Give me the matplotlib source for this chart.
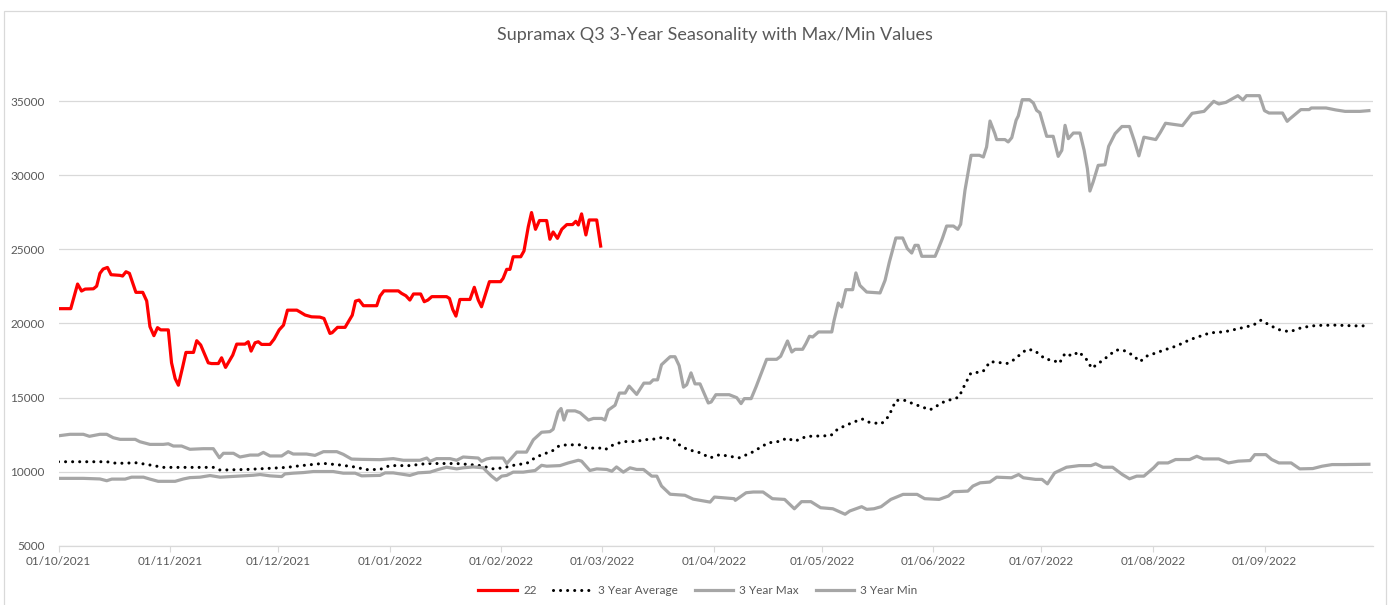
import matplotlib.pyplot as plt
import matplotlib.dates as mdates
import pandas as pd
from matplotlib.patches import Rectangle

plt.rcParams['font.family'] = ['Lato', 'DejaVu Sans']

# --- Data ---
# x positions are days since 01/10/2021
start = pd.Timestamp('2021-10-01')

red_days = [0, 3.4, 5.3, 6.4, 7.4, 9.7, 10.6, 11.5, 12.4, 13.6, 14.6, 17.1, 17.8, 18.75, 19.7,
            21.5, 23.4, 24.5, 25.4, 26.5, 27.5, 28.4, 30.5, 31.4, 32.4, 33.3, 34.5, 35.4, 37.5,
            38.4, 39.5, 41.6, 42.5, 44.4, 45.3, 46.4, 48.4, 49.5, 51.8, 52.7, 53.5, 54.6, 55.5,
            56.4, 58.75, 59.9, 61.3, 62.5, 63.6, 66.2, 67, 68.5, 70.3, 72.6, 73.75, 75.4, 76,
            77.5, 79.6, 80.5, 81.6, 82.5, 83.5, 84.7, 88.4, 89.3, 90.4, 94.4, 95.3, 96.5, 97.6,
            98.6, 100.6, 101.6, 102.6, 103.7, 107.8, 108.6, 109.5, 110.4, 111.5, 114.3, 115.5,
            116.6, 117.5, 119.7, 122.8, 123.5, 124.5, 125.4, 126.3, 128.4, 129.3, 130.5, 131.4,
            132.5, 133.6, 135.6, 136.5, 137.4, 138.6, 139.8, 141.2, 142.8, 143.7, 144.4, 145.3,
            146.5, 147.4, 149.5, 150.6]
red_vals = [21000, 21000, 22660, 22190, 22320, 22340, 22520, 23380, 23670, 23780, 23290, 23245,
            23200, 23490, 23380, 22100, 22100, 21520, 19790, 19180, 19720, 19570, 19570, 17350,
            16290, 15840, 17080, 18050, 18050, 18840, 18550, 17350, 17300, 17300, 17690, 17040,
            17870, 18610, 18610, 18770, 18140, 18700, 18770, 18590, 18590, 18950, 19570, 19890,
            20900, 20900, 20790, 20570, 20450, 20430, 20340, 19330, 19380, 19740, 19740, 20110,
            20560, 21510, 21580, 21200, 21200, 21850, 22200, 22200, 22030, 21870, 21580, 21990,
            21990, 21470, 21580, 21810, 21810, 21690, 20950, 20500, 21620, 21620, 22440, 21580,
            21130, 22820, 22820, 23040, 23650, 23650, 24500, 24500, 24890, 26530, 27480, 26350,
            26940, 26940, 25680, 26170, 25740, 26350, 26670, 26670, 26890, 26640, 27390, 25970,
            26980, 26980, 25220]

avg_days = [0, 13.4, 16.2, 21.7, 25.4, 29.1, 43, 44.9, 52.3, 59.7, 63.4, 67.1, 73.6, 78.2, 81.9,
            85.6, 89.3, 92, 97.6, 102.3, 110.6, 114.3, 117.1, 120.8, 123.5, 127.3, 130, 131.9,
            134.2, 137, 139.1, 141.2, 144.9, 146.7, 150.4, 151.8, 154.1, 156.9, 160.6, 162.4,
            165.2, 167.5, 170.8, 172.9, 174.9, 178.3, 181, 183.7, 189, 192.4, 197.1, 200.4,
            202.4, 204.5, 207.8, 214.5, 216.5, 220.6, 223.25, 225.3, 228.6, 230.6, 232.6, 234.7,
            237.4, 242.1, 246.1, 250.1, 251.4, 253.4, 256.8, 258.8, 263.5, 264.9, 268.9, 271,
            274.25, 276.25, 278, 279.6, 281.6, 283.4, 285.7, 287, 290.4, 293.7, 295.7, 298.4,
            300.4, 302.4, 307.1, 310.5, 314.5, 319.9, 323.9, 327.9, 331.9, 334, 336, 338.7, 342,
            345.4, 349.4, 354.75, 360.1, 363.5]
avg_vals = [10680, 10680, 10570, 10610, 10460, 10300, 10300, 10120, 10160, 10250, 10300, 10410,
            10570, 10460, 10340, 10150, 10160, 10420, 10420, 10560, 10560, 10490, 10420, 10200,
            10270, 10490, 10560, 10870, 11160, 11380, 11760, 11820, 11820, 11600, 11600, 11490,
            11820, 12040, 12040, 12160, 12200, 12310, 12210, 11720, 11500, 11280, 10940, 11160,
            10940, 11280, 11950, 12060, 12280, 12060, 12390, 12440, 12890, 13330, 13560, 13330,
            13240, 13740, 14810, 14850, 14590, 14180, 14740, 15030, 15700, 16640, 16760, 17430,
            17310, 17470, 18250, 18200, 17580, 17540, 17310, 17990, 17810, 18100, 17540, 16980,
            17580, 18210, 18210, 17870, 17430, 17810, 18210, 18480, 18930, 19370, 19440, 19660,
            19890, 20220, 19950, 19600, 19440, 19730, 19870, 19890, 19840, 19840]

max_days = [0, 3.2, 6.9, 8.6, 11.5, 13.4, 15.2, 17.1, 21.3, 22.6, 25.4, 29.1, 30.5, 31.9, 34.2,
            36.5, 40.2, 43, 44.7, 45.8, 48.6, 50.4, 53.2, 55.5, 56.9, 58.75, 62, 63.8, 65.2,
            68.9, 71.25, 73.6, 77.3, 79.1, 81.4, 84.2, 89.3, 93, 95.8, 100.4, 102.3, 103.2, 105,
            108.75, 110.6, 112.4, 116.6, 117.5, 118.9, 120.3, 123.5, 124.5, 127.3, 130, 131.9,
            134.2, 136.5, 137.4, 138.8, 139.6, 140.4, 141.3, 143.5, 144.9, 147.2, 148.6, 150.9,
            151.8, 152.7, 154.6, 155.8, 157.4, 158.5, 160.6, 162.6, 164.3, 165.2, 166.4, 167.5,
            169.9, 171.25, 172.4, 173.6, 174.5, 175.7, 176.8, 178.2, 180.5, 181.3, 182.6, 186.3,
            188.4, 189.6, 190.5, 192.4, 193.75, 196.7, 199.5, 200.6, 202.5, 203.7, 204.6, 206.7,
            207.6, 208.6, 209.5, 211.1, 214.8, 215.4, 216.6, 217.55, 218.7, 220.6, 221.5, 222.6,
            224.5, 228.2, 229.6, 230.8, 232.6, 234.5, 235.8, 237, 237.9, 238.8, 239.8, 243.5,
            244.4, 245.5, 246.7, 248.6, 249.8, 250.6, 251.8, 253.5, 255.8, 256.9, 257.8, 258.75,
            260.1, 260.6, 262.9, 263.8, 264.8, 266, 266.6, 267.7, 269.7, 270.8, 271.7, 272.6,
            274.5, 276.3, 277.7, 278.7, 279.6, 280.5, 281.9, 283.75, 284.9, 285.8, 286.5, 287.4,
            288.8, 290.7, 291.7, 293.5, 295.4, 297.5, 298.8, 300.1, 301.5, 304.8, 306.1, 307.5,
            312.2, 314.9, 318.2, 320.9, 322.3, 324.3, 327.6, 329, 330, 333.6, 335, 336.25, 340,
            341.3, 342, 345.1, 347.4, 348, 352.1, 354.75, 357.4, 361.5, 364]
max_vals = [12430, 12530, 12530, 12395, 12530, 12530, 12300, 12190, 12190, 12030, 11850, 11850,
            11890, 11740, 11740, 11520, 11560, 11560, 10950, 11250, 11250, 11000, 11130, 11130,
            11310, 11070, 11070, 11360, 11200, 11200, 11110, 11360, 11360, 11180, 10860, 10840,
            10820, 10890, 10780, 10780, 10930, 10710, 10890, 10890, 10780, 11000, 10930, 10710,
            10870, 10930, 10930, 10560, 11330, 11330, 12160, 12670, 12710, 12870, 14040, 14270,
            13490, 14110, 14110, 13980, 13490, 13600, 13600, 13490, 14160, 14490, 15310, 15310,
            15780, 15220, 15980, 15980, 16200, 16200, 17220, 17760, 17760, 17160, 15710, 15870,
            16670, 15930, 15930, 14640, 14710, 15200, 15200, 15000, 14600, 14935, 14935, 15720,
            17585, 17585, 17790, 18820, 18080, 18260, 18260, 18640, 19140, 19090, 19430, 19430,
            20170, 21380, 21110, 22280, 22280, 23410, 22570, 22120, 22060, 22910, 24150, 25765,
            25765, 25045, 24750, 25270, 25270, 24530, 24530, 25045, 25720, 26570, 26570, 26350,
            26690, 28980, 31340, 31340, 31225, 31900, 33650, 32800, 32400, 32400, 32240, 32530,
            33700, 33990, 35090, 35090, 34865, 34370, 34210, 32620, 32620, 31270, 31675, 33360,
            32460, 32840, 32840, 31675, 30440, 28930, 29540, 30660, 30700, 31940, 32800, 33280,
            33280, 32340, 31300, 32560, 32400, 32900, 33500, 33340, 34170, 34300, 34980, 34800,
            34910, 35360, 35070, 35360, 35360, 34350, 34190, 34190, 33630, 33790, 34420, 34420,
            34530, 34530, 34400, 34300, 34300, 34350]

min_days = [0, 6.9, 11.5, 13.4, 14.8, 18.5, 20.3, 23.6, 25.4, 27.7, 32.4, 34.7, 36.5, 39.3, 42.1,
            44.9, 47.6, 51.3, 54.1, 56, 58.75, 62, 62.9, 65.2, 68, 70.8, 76.3, 79.1, 82.4, 84.2,
            89.3, 90.7, 93, 97.6, 99.9, 103.2, 105.5, 107.8, 110.6, 112.4, 115.2, 118, 118.9,
            120.3, 121.7, 123.1, 124.5, 126.3, 129.1, 131, 132.4, 134.2, 135.6, 139.3, 141.6,
            144.4, 145.3, 147.6, 149.5, 152.3, 153.7, 155, 156.9, 158.75, 160.6, 162.5, 164.8,
            166.2, 167.5, 169.9, 174, 176.3, 181, 182.2, 187.7, 188, 191, 193, 195.7, 198.3,
            201.7, 204.4, 206.4, 209, 211.7, 215.1, 218.5, 219.8, 223.1, 224.5, 226.5, 228.5,
            231.2, 234.6, 238.5, 240.6, 244.6, 247.2, 248.6, 252.6, 254, 256, 258.7, 260.6,
            264.7, 266.7, 268, 271.4, 273.2, 274.7, 276.7, 280, 283.5, 286.8, 288.1, 290.1,
            292.8, 295.5, 297.5, 299.5, 301.5, 302.8, 304.2, 305.5, 308.2, 310.3, 314.2, 316.2,
            318, 322.3, 325, 327.7, 331, 332.3, 335.4, 337, 339, 342.4, 344.8, 348.4, 351, 353.8,
            357.1, 364]
min_vals = [9560, 9560, 9520, 9400, 9510, 9510, 9640, 9640, 9510, 9360, 9360, 9520, 9610, 9640,
            9750, 9640, 9680, 9730, 9770, 9820, 9730, 9680, 9860, 9910, 9950, 10020, 10020, 9910,
            9910, 9730, 9760, 9930, 9930, 9760, 9930, 9980, 10160, 10310, 10200, 10270, 10330,
            10270, 10040, 9710, 9440, 9710, 9760, 9980, 9980, 10040, 10090, 10440, 10380, 10420,
            10600, 10780, 10720, 10090, 10200, 10160, 10040, 10330, 9980, 10270, 10160, 10160,
            9710, 9710, 9045, 8490, 8420, 8160, 7960, 8300, 8190, 8080, 8590, 8640, 8640, 8190,
            8140, 7510, 7990, 7990, 7580, 7510, 7140, 7360, 7650, 7470, 7510, 7650, 8140, 8480,
            8480, 8190, 8140, 8370, 8660, 8700, 9040, 9260, 9310, 9640, 9600, 9820, 9600, 9490,
            9490, 9190, 9930, 10310, 10420, 10420, 10540, 10310, 10310, 9820, 9530, 9710, 9710,
            9980, 10270, 10600, 10600, 10830, 10830, 11050, 10870, 10870, 10600, 10720, 10760,
            11160, 11160, 10830, 10600, 10600, 10200, 10220, 10380, 10490, 10490, 10510]

series_labels = ['22', '3 Year Average', '3 Year Max', '3 Year Min']
month_ticks = pd.date_range('2021-10-01', '2022-09-01', freq='MS')


def to_dates(days):
    return start + pd.to_timedelta(days, unit='D')


text_grey = '#595959'
line_grey = '#a6a6a6'
grid_grey = '#d9d9d9'

# --- Figure ---
W, H = 1396, 605
fig = plt.figure(figsize=(W / 100, H / 100), dpi=100)
ax = fig.add_axes([58.5 / W, 1 - 546 / H, 1314 / W, (546 - 56.5) / H])

ax.plot(to_dates(red_days), red_vals, color='#ff0000', lw=2.3, label=series_labels[0],
        solid_joinstyle='round')
ax.plot(to_dates(avg_days), avg_vals, color='black', lw=2.2, linestyle=(0, (0.01, 2.3)),
        dash_capstyle='round', label=series_labels[1])
ax.plot(to_dates(max_days), max_vals, color=line_grey, lw=2.3, label=series_labels[2],
        solid_joinstyle='round')
ax.plot(to_dates(min_days), min_vals, color=line_grey, lw=2.3, label=series_labels[3],
        solid_joinstyle='round')

ax.set_xlim(start, start + pd.Timedelta(days=365))
ax.set_ylim(5000, 38000)
ax.set_yticks(range(5000, 35001, 5000))
ax.set_xticks(month_ticks)
ax.xaxis.set_major_formatter(mdates.DateFormatter('%d/%m/%Y'))

ax.yaxis.grid(True, color=grid_grey, lw=0.9)
ax.set_axisbelow(True)
for side in ['top', 'right', 'left']:
    ax.spines[side].set_visible(False)
ax.spines['bottom'].set_color(grid_grey)
ax.spines['bottom'].set_linewidth(0.9)

ax.tick_params(axis='x', length=4, color=grid_grey, labelcolor=text_grey, labelsize=8.5, pad=3)
ax.tick_params(axis='y', length=0, labelcolor=text_grey, labelsize=8.5, pad=10)

fig.text(715 / W, 1 - 35 / H, 'Supramax Q3 3-Year Seasonality with Max/Min Values',
         ha='center', va='center', fontsize=13, color=text_grey)

fig.legend(loc='center', bbox_to_anchor=(698 / W, 1 - 591 / H), ncol=4, frameon=False,
           fontsize=8.5, handlelength=3.3, handletextpad=0.5, columnspacing=1.4,
           labelcolor=text_grey)

# chart border
fig.add_artist(Rectangle((4 / W, -0.05), 1382 / W, 1.05 - 11 / H, transform=fig.transFigure,
                         fill=False, edgecolor=grid_grey, lw=0.9))

fig.savefig('out.png', dpi=100)
